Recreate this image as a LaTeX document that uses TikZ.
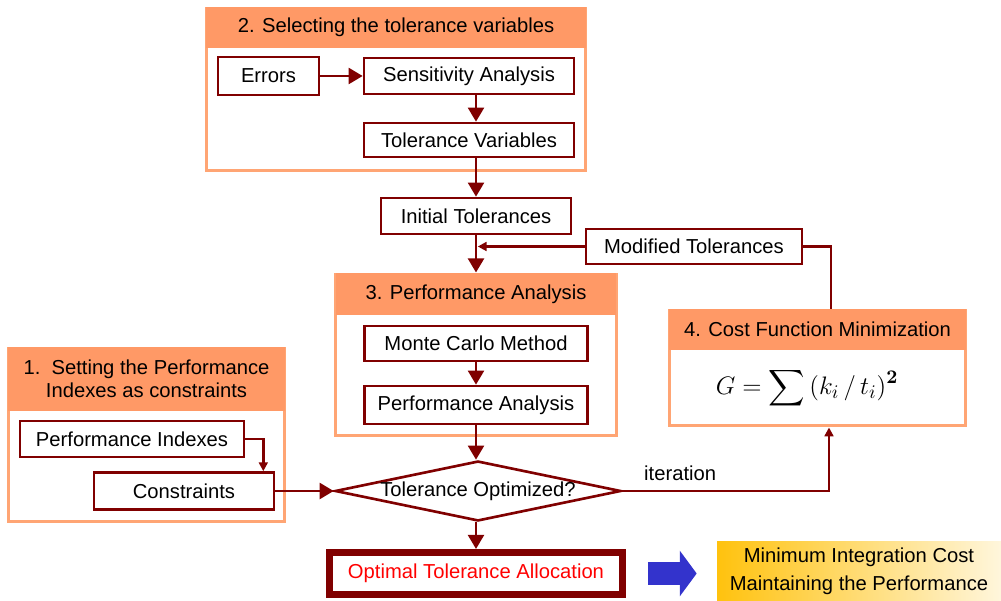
\documentclass[tikz,border=0pt]{standalone}
\usepackage{amsmath}
\usepackage[no-math]{fontspec}
\setmainfont{Liberation Sans}
\usetikzlibrary{positioning,shapes.geometric,arrows.meta}

\definecolor{linered}{HTML}{800000}
\definecolor{hdrorange}{HTML}{FF9966}
\definecolor{frameorange}{HTML}{FFA574}
\definecolor{arrowblue}{HTML}{3333CC}
\definecolor{gold1}{HTML}{FFC20E}
\definecolor{gold2}{HTML}{FFF6DC}

\begin{document}
\begin{tikzpicture}[x=0.02cm, y=-0.02cm, font=\fontsize{11.5}{14}\selectfont,
		box/.style={draw=linered, line width=1.5pt, fill=white, inner sep=0pt},
		grp/.style={draw=frameorange, line width=1.7pt, fill=white, inner sep=0pt},
		hdr/.style={fill=hdrorange, inner sep=0pt, align=center},
		dec/.style={diamond, draw=linered, line width=1.5pt, fill=white, inner sep=0pt},
		flow/.style={linered, line width=1.6pt, -{Triangle[length=8pt, width=9pt]}},
		back/.style={linered, line width=1.6pt, -{Triangle[length=5pt, width=5pt]}},
		plain/.style={draw=linered, line width=1.6pt}]
		\useasboundingbox (0,0) rectangle (1001,601);

		% groups
		\node [grp, minimum width=7.6cm, minimum height=3.26cm] (g2) at (396,89.5) {};
		\node [hdr, minimum width=7.6cm, minimum height=0.82cm, below=0pt of g2.north] (h2) {2. Selecting the tolerance variables};
		\node [grp, minimum width=5.62cm, minimum height=3.24cm] (g3) at (476,355) {};
		\node [hdr, minimum width=5.62cm, minimum height=0.84cm, below=0pt of g3.north] (h3) {3. Performance Analysis};
		\node [grp, minimum width=5.94cm, minimum height=2.32cm] (g4) at (817.5,368) {};
		\node [hdr, minimum width=5.94cm, minimum height=0.82cm, below=0pt of g4.north] (h4) {4. Cost Function Minimization};
		\node [grp, minimum width=5.54cm, minimum height=3.48cm] (g1) at (146.5,435) {};
		\node [hdr, minimum width=5.54cm, minimum height=1.28cm, font=\fontsize{11.5}{13}\selectfont, below=0pt of g1.north] (h1) {1.\ \ Setting the Performance\\Indexes as constraints};

		% steps
		\node [box, minimum width=2.02cm, minimum height=0.76cm] (err) at (268.5,76) {Errors};
		\node [box, minimum width=4.2cm, minimum height=0.72cm] (sens) at (469,76) {Sensitivity Analysis};
		\node [box, minimum width=4.2cm, minimum height=0.68cm] (tolvar) at (469,140) {Tolerance Variables};
		\node [box, minimum width=3.8cm, minimum height=0.72cm] (init) at (476,216) {Initial Tolerances};
		\node [box, minimum width=4.32cm, minimum height=0.7cm] (mod) at (694,246.5) {Modified Tolerances};
		\node [box, minimum width=4.46cm, minimum height=0.7cm] (monte) at (476,343.5) {Monte Carlo Method};
		\node [box, minimum width=4.46cm, minimum height=0.76cm] (perf) at (476,405) {Performance Analysis};
		\node [box, minimum width=4.48cm, minimum height=0.72cm] (pidx) at (132,439) {Performance Indexes};
		\node [box, minimum width=3.6cm, minimum height=0.74cm] (cons) at (184,491) {Constraints};
		\node [dec, minimum width=5.72cm, minimum height=1.2cm, label=center:{Tolerance Optimized?}] (opt) at (478,491) {};
		\node [box, line width=4pt, minimum width=5.86cm, minimum height=0.84cm, text=red] (alloc) at (476,573.5) {Optimal Tolerance Allocation};
		\node [left color=gold1, right color=gold2, minimum width=5.68cm, minimum height=1.2cm, inner sep=0pt, align=center, font=\fontsize{11.5}{16}\selectfont] (goal) at (859,571) {Minimum Integration Cost\\Maintaining the Performance};
		\node (fml) at (807,388) {\fontsize{15}{18}\selectfont$\displaystyle G=\sum\,(k_i\,/\,t_i)^{\mathbf{2}}$};

		\path[flow] (err) edge (sens);
		\path[flow] (sens.south -| init) edge (tolvar.north -| init);
		\path[flow] (tolvar.south -| init) edge (init);
		\path[flow] (init) edge (g3);
		\path[back, shorten >=1pt] (mod.west) edge (mod.west -| init);
		\draw[plain] (mod.east) -| ([xshift=0.27cm]g4.north);
		\path[flow] (monte) edge (perf);
		\path[flow] (perf) edge (perf |- opt.north);
		\path[flow] (opt.south -| alloc) edge (alloc);
		\path[flow] (cons.east) edge (cons.east -| opt.west);
		\draw[back] (pidx.east) -| ([xshift=-0.24cm]cons.north east);
		\draw[back] (opt.east) -| node [pos=0.14, above=2pt, black] {iteration} ([xshift=0.23cm]g4.south);
		\draw[arrowblue, line width=13pt, -{Triangle[length=9.6pt, width=25.5pt]}, shorten <=0.44cm, shorten >=0.4cm] (alloc.east) -- (alloc.east -| goal.west);
	\end{tikzpicture}
\end{document}
